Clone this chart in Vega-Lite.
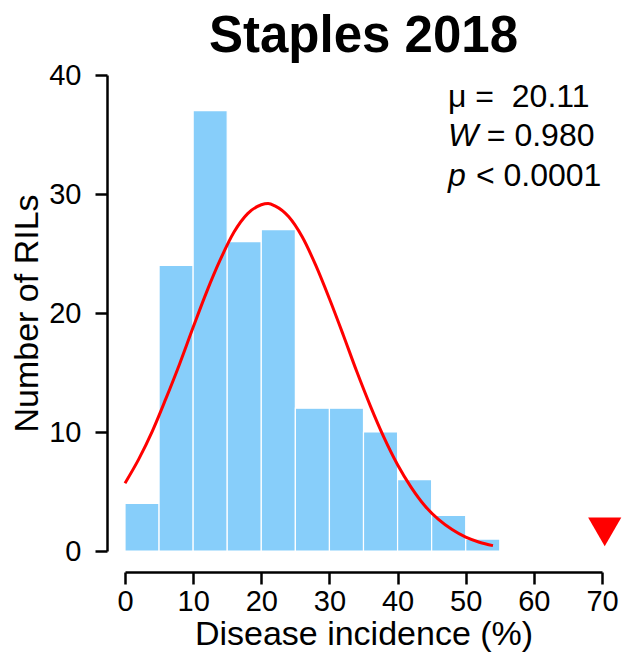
{
  "$schema": "https://vega.github.io/schema/vega-lite/v6.json",
  "width": 477,
  "height": 476,
  "autosize": {"type": "none"},
  "padding": {"left": 125, "top": 75, "right": 33, "bottom": 104},
  "background": "white",
  "title": {"text": "Staples 2018", "fontSize": 51, "font": "Liberation Sans", "fontWeight": "bold", "color": "black", "anchor": "middle", "offset": -2},
  "config": {
    "view": {"stroke": null},
    "font": "Liberation Sans",
    "axis": {"grid": false, "domainColor": "black", "domainWidth": 2.5, "tickColor": "black", "tickWidth": 2.5, "tickSize": 12, "labelFont": "Liberation Sans", "labelFontSize": 29, "labelColor": "black", "titleFont": "Liberation Sans", "titleFontSize": 34, "titleFontWeight": "normal", "titleColor": "black"}
  },
  "datasets": {
    "bars": [
      {"lo": 0, "hi": 5, "count": 4},
      {"lo": 5, "hi": 10, "count": 24},
      {"lo": 10, "hi": 15, "count": 37},
      {"lo": 15, "hi": 20, "count": 26},
      {"lo": 20, "hi": 25, "count": 27},
      {"lo": 25, "hi": 30, "count": 12},
      {"lo": 30, "hi": 35, "count": 12},
      {"lo": 35, "hi": 40, "count": 10},
      {"lo": 40, "hi": 45, "count": 6},
      {"lo": 45, "hi": 50, "count": 3},
      {"lo": 50, "hi": 55, "count": 1}
    ],
    "curve": [
      {"x": 0, "fit": 5.7}, {"x": 2, "fit": 7.7}, {"x": 4, "fit": 10.05}, {"x": 6, "fit": 12.8},
      {"x": 8, "fit": 15.7}, {"x": 10, "fit": 18.8}, {"x": 12, "fit": 21.8}, {"x": 14, "fit": 24.5},
      {"x": 16, "fit": 26.8}, {"x": 18, "fit": 28.35}, {"x": 20, "fit": 29.1}, {"x": 21, "fit": 29.2},
      {"x": 22, "fit": 29.0}, {"x": 24, "fit": 28.1}, {"x": 26, "fit": 26.4}, {"x": 28, "fit": 24.0},
      {"x": 30, "fit": 21.2}, {"x": 32, "fit": 18.2}, {"x": 34, "fit": 15.1}, {"x": 36, "fit": 12.2},
      {"x": 38, "fit": 9.55}, {"x": 40, "fit": 7.25}, {"x": 42, "fit": 5.35}, {"x": 44, "fit": 3.8},
      {"x": 46, "fit": 2.65}, {"x": 48, "fit": 1.8}, {"x": 50, "fit": 1.16}, {"x": 52, "fit": 0.74},
      {"x": 54, "fit": 0.45}
    ],
    "marker": [{"x": 70.4, "y": 1.6}],
    "plain": [
      {"x": 47.4, "y": 37.3, "label": "μ = \u00a020.11"},
      {"x": 53.1, "y": 34.0, "label": "= 0.980"},
      {"x": 51.5, "y": 30.7, "label": "< 0.0001"}
    ],
    "ital": [
      {"x": 47.4, "y": 34.0, "label": "W"},
      {"x": 47.4, "y": 30.7, "label": "p"}
    ]
  },
  "layer": [
    {
      "data": {"name": "bars"},
      "mark": {"type": "bar", "color": "#87CEFA", "stroke": "white", "strokeWidth": 1.2},
      "encoding": {
        "x": {"field": "lo", "type": "quantitative", "scale": {"domain": [0, 70], "nice": false}, "axis": {"values": [0, 10, 20, 30, 40, 50, 60, 70], "offset": 21, "title": "Disease incidence (%)", "labelPadding": 3, "titlePadding": 1, "labelFlush": false, "labelOverlap": false}},
        "x2": {"field": "hi"},
        "y": {"field": "count", "type": "quantitative", "scale": {"domain": [0, 40], "nice": false}, "axis": {"values": [0, 10, 20, 30, 40], "offset": 18, "title": "Number of RILs", "labelPadding": 14, "titlePadding": 4, "labelFlush": false}},
        "y2": {"datum": 0}
      }
    },
    {
      "data": {"name": "curve"},
      "mark": {"type": "line", "color": "#FF0000", "strokeWidth": 3, "interpolate": "monotone"},
      "encoding": {
        "x": {"field": "x", "type": "quantitative"},
        "y": {"field": "fit", "type": "quantitative"}
      }
    },
    {
      "data": {"name": "marker"},
      "mark": {"type": "point", "shape": "triangle-down", "filled": true, "color": "#FF0000", "opacity": 1, "size": 1100},
      "encoding": {
        "x": {"field": "x", "type": "quantitative"},
        "y": {"field": "y", "type": "quantitative"}
      }
    },
    {
      "data": {"name": "plain"},
      "mark": {"type": "text", "align": "left", "baseline": "alphabetic", "fontSize": 32, "font": "Liberation Sans", "color": "black"},
      "encoding": {
        "x": {"field": "x", "type": "quantitative"},
        "y": {"field": "y", "type": "quantitative"},
        "text": {"field": "label"}
      }
    },
    {
      "data": {"name": "ital"},
      "mark": {"type": "text", "align": "left", "baseline": "alphabetic", "fontSize": 32, "fontStyle": "italic", "font": "Liberation Sans", "color": "black"},
      "encoding": {
        "x": {"field": "x", "type": "quantitative"},
        "y": {"field": "y", "type": "quantitative"},
        "text": {"field": "label"}
      }
    }
  ]
}
